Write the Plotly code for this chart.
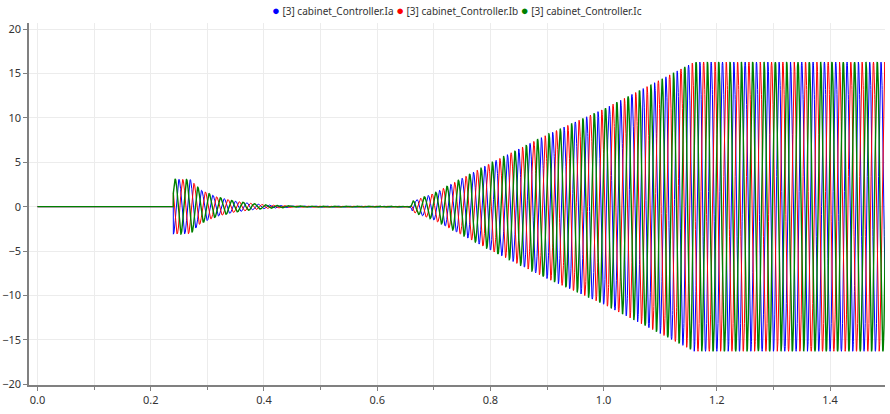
import numpy as np
import plotly.graph_objects as go

# ---- data ----
series_names = ["[3] cabinet_Controller.Ia", "[3] cabinet_Controller.Ib", "[3] cabinet_Controller.Ic"]
series_colors = ["#0000ff", "#ff0000", "#008000"]
phase_shift_deg = [0, -120, 120]
grid_freq_hz = 50.0

# envelope breakpoints (time in s, peak amplitude)
env_t = [0.0, 0.2399, 0.240, 0.270, 0.288, 0.317, 0.347, 0.376, 0.406, 0.450, 0.660, 0.662, 0.700, 0.800, 0.900, 1.000, 1.100, 1.160, 1.500]
env_a = [0.0, 0.0,    3.10,  3.05,  1.90,  1.10,  0.64,  0.38,  0.19,  0.08,  0.06,  0.60,  1.50,  4.90,  8.10,  11.00, 14.30, 16.30, 16.30]

t_start = 0.0
t_end = 1.5
n_samples = 9001

# ---- build traces ----
t = np.linspace(t_start, t_end, n_samples)
env = np.interp(t, env_t, env_a)
t_on = 0.240

fig = go.Figure()
for name, color, ph in zip(series_names, series_colors, phase_shift_deg):
    y = env * np.sin(2 * np.pi * grid_freq_hz * (t - t_on) + np.deg2rad(ph) - np.pi / 2)
    fig.add_trace(go.Scatter(x=t, y=y, mode="lines", name=name, showlegend=False,
                             line=dict(color=color, width=1.4 if color == "#008000" else 1)))

# legend drawn as one centred line of real text (dot + series name)
legend_text = " ".join(
    f"<span style='color:{c}; font-size:13px'>●</span> {n}" for n, c in zip(series_names, series_colors)
)
fig.add_annotation(text=legend_text, x=0.5, xref="paper", xanchor="center",
                   y=1.0, yref="paper", yanchor="bottom", yshift=2, showarrow=False,
                   font=dict(family="Noto Sans, sans-serif", size=10, color="#333333"))

fig.update_layout(
    width=890, height=414,
    margin=dict(l=29, r=5, t=23, b=29),
    paper_bgcolor="white", plot_bgcolor="white",
    font=dict(family="Noto Sans, Open Sans, sans-serif", size=11, color="#333333"),
    showlegend=False,
)
fig.update_xaxes(range=[-0.015, 1.497], tickvals=[0.0, 0.2, 0.4, 0.6, 0.8, 1.0, 1.2, 1.4],
                 tickformat=".1f", ticks="outside", ticklen=4, tickcolor="#808080",
                 showline=True, linecolor="#808080", linewidth=1.5, automargin=False,
                 showgrid=True, gridcolor="#ececec", gridwidth=1, zeroline=False,
                 minor=dict(dtick=0.1, tick0=0, showgrid=True, gridcolor="#ececec",
                            ticks="outside", ticklen=3, tickcolor="#808080"))
fig.update_yaxes(range=[-20.1, 20.7], tickvals=[-20, -15, -10, -5, 0, 5, 10, 15, 20],
                 ticks="outside", ticklen=4, tickcolor="#808080", automargin=False,
                 showline=True, linecolor="#808080", linewidth=1.5,
                 showgrid=True, gridcolor="#ececec", gridwidth=1, zeroline=False)

fig.write_html("out.html")
